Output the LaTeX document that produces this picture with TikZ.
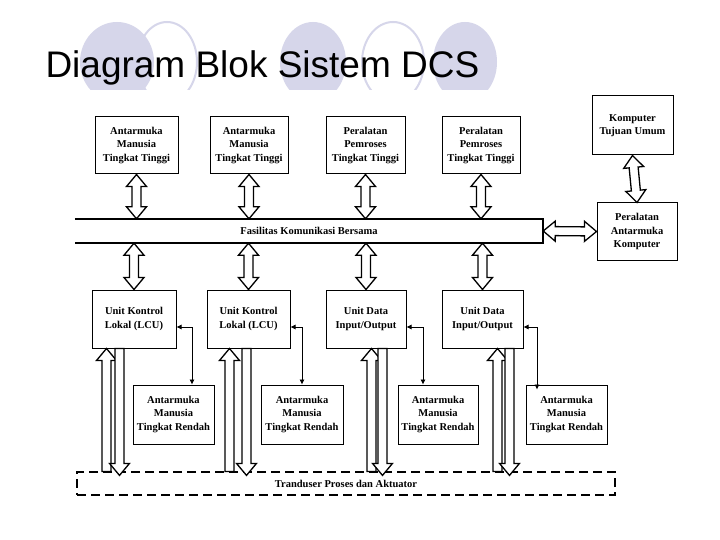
\documentclass[tikz,border=0pt]{standalone}
\usepackage{fontspec}
\setmainfont{Liberation Serif}
\newfontfamily\titlefont{Liberation Sans}
\usetikzlibrary{arrows.meta,calc}
\definecolor{lav}{RGB}{214,214,234}
\tikzset{wide/.style={draw,fill=white,line width=1.3pt,line join=miter}}
\newcommand\wdbl[2]{\path[wide] let \p1=(#1),\p2=(#2),\n1={atan2(\y2-\y1,\x2-\x1)},\n2={veclen(\x2-\x1,\y2-\y1)} in
  [shift={(\p1)},rotate=\n1] (0pt,0pt) -- (12pt,10pt) -- (12pt,4.5pt) -- ({(\n2-12)*1pt},4.5pt) -- ({(\n2-12)*1pt},10pt) -- ({\n2*1pt},0pt)
  -- ({(\n2-12)*1pt},-10pt) -- ({(\n2-12)*1pt},-4.5pt) -- (12pt,-4.5pt) -- (12pt,-10pt) -- cycle;}
\newcommand\wone[2]{\path[wide] let \p1=(#1),\p2=(#2),\n1={atan2(\y2-\y1,\x2-\x1)},\n2={veclen(\x2-\x1,\y2-\y1)} in
  [shift={(\p1)},rotate=\n1] (0pt,4.5pt) -- ({(\n2-12)*1pt},4.5pt) -- ({(\n2-12)*1pt},10pt) -- ({\n2*1pt},0pt)
  -- ({(\n2-12)*1pt},-10pt) -- ({(\n2-12)*1pt},-4.5pt) -- (0pt,-4.5pt) -- cycle;}
\begin{document}
\begin{tikzpicture}[x=1pt,y=-1pt,
  box/.style={draw,line width=1pt,inner sep=0pt,align=center,font=\fontsize{10.5}{13.5}\selectfont\bfseries},
  thin/.style={draw,line width=0.6pt,{Latex[length=5pt,width=5pt]}-{Latex[length=5pt,width=5pt]}}]
\useasboundingbox (0,0) rectangle (720,540);
\fill[white] (0,0) rectangle (720,540);
% decoration
\begin{scope}
\clip (0,0) rectangle (720,90);
\fill[lav] (117,62) ellipse (37 and 40);
\draw[lav,line width=2pt] (167,62) ellipse (30 and 40);
\fill[lav] (313,62) ellipse (33 and 40);
\draw[lav,line width=2pt] (393,62) ellipse (31 and 40);
\fill[lav] (465,62) ellipse (32 and 40);
\end{scope}
\node[anchor=west,font=\titlefont\fontsize{37}{40}\selectfont] (title) at (42,68) {Diagram Blok Sistem DCS};
% top row
\node[box,minimum width=83,minimum height=57] (t1) at (136.5,145.5) {Antarmuka\\Manusia\\Tingkat Tinggi};
\node[box,minimum width=78,minimum height=57] (t2) at (249,145.5) {Antarmuka\\Manusia\\Tingkat Tinggi};
\node[box,minimum width=79,minimum height=57] (t3) at (365.5,145.5) {Peralatan\\Pemroses\\Tingkat Tinggi};
\node[box,minimum width=78,minimum height=57] (t4) at (481,145.5) {Peralatan\\Pemroses\\Tingkat Tinggi};
\node[box,minimum width=81,minimum height=59] (ku) at (632.5,125.5) {Komputer\\Tujuan Umum};
\node[box,minimum width=80,minimum height=57] (pak) at (637,231.5) {Peralatan\\Antarmuka\\Komputer};
% bus
\node[inner sep=0pt,minimum width=468,minimum height=24,font=\fontsize{10.5}{12}\selectfont\bfseries] (bus) at (309,231) {Fasilitas Komunikasi Bersama};
\draw[line width=1.5pt] (bus.north west) -- (bus.north east) -- (bus.south east) -- (bus.south west);
% middle row
\node[box,minimum width=84,minimum height=58] (m1) at (134,319) {Unit Kontrol\\Lokal (LCU)};
\node[box,minimum width=83,minimum height=58] (m2) at (248.5,319) {Unit Kontrol\\Lokal (LCU)};
\node[box,minimum width=80,minimum height=58] (m3) at (366,319) {Unit Data\\Input/Output};
\node[box,minimum width=81,minimum height=58] (m4) at (482.5,319) {Unit Data\\Input/Output};
% low HMI
\node[box,minimum width=81,minimum height=59] (l1) at (173.5,414.5) {Antarmuka\\Manusia\\Tingkat Rendah};
\node[box,minimum width=82,minimum height=59] (l2) at (302,414.5) {Antarmuka\\Manusia\\Tingkat Rendah};
\node[box,minimum width=80,minimum height=59] (l3) at (438,414.5) {Antarmuka\\Manusia\\Tingkat Rendah};
\node[box,minimum width=81,minimum height=59] (l4) at (566.5,414.5) {Antarmuka\\Manusia\\Tingkat Rendah};
% transducer
\node[draw,dashed,dash pattern=on 9pt off 5pt,line width=1.2pt,minimum width=538,minimum height=23,inner sep=0pt,font=\fontsize{10.5}{12}\selectfont\bfseries] (tr) at (346,483.5) {Tranduser Proses dan Aktuator};
% double arrows
\foreach \nd in {t1,t2,t3,t4}{\wdbl{\nd.south}{\nd.south |- bus.north}}
\foreach \nd in {m1,m2,m3,m4}{\wdbl{\nd.north |- bus.south}{\nd.north}}
\wdbl{bus.east}{pak.west}
\wdbl{ku.south}{pak.north}
% one-way wide arrows
\foreach \nd/\uu/\dd in {m1/15/28,m2/23/40,m3/46/57,m4/56/68}{
  \wone{[xshift=\uu]\nd.south west |- tr.north}{[xshift=\uu]\nd.south west}
  \wone{[xshift=\dd]\nd.south west}{[xshift=\dd,yshift=-4]\nd.south west |- tr.north}
}
% thin arrows
\path[thin] ([yshift=-8]m1.east) -| (l1.north -| 192,0);
\path[thin] ([yshift=-8]m2.east) -| (l2.north -| 302,0);
\path[thin] ([yshift=-8]m3.east) -| (l3.north -| 423,0);
\path[thin] ([yshift=-8]m4.east) -| ([yshift=-5]l4.north -| 537,0);
\end{tikzpicture}
\end{document}
